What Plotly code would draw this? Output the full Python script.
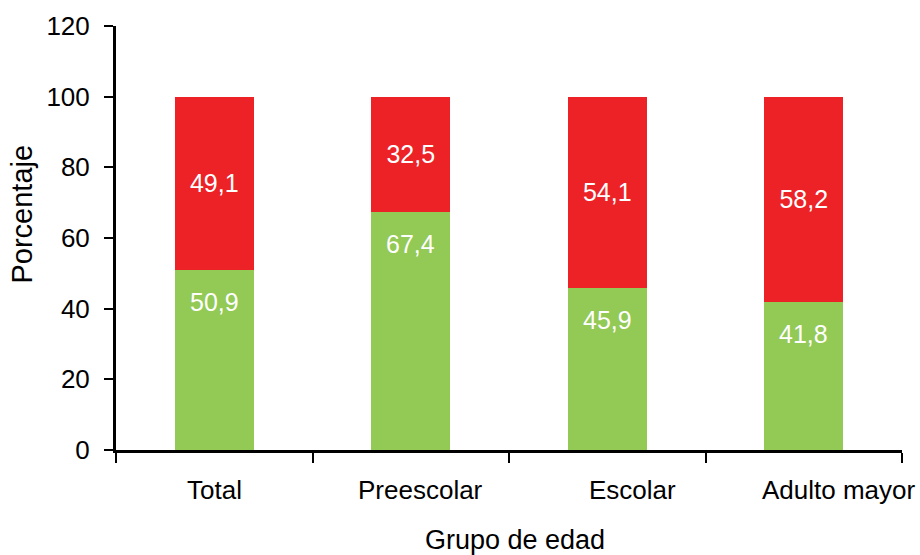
import plotly.graph_objects as go

# Distribución porcentual por grupo de edad
grupos = ["Total", "Preescolar", "Escolar", "Adulto mayor"]
verde = [50.9, 67.4, 45.9, 41.8]
rojo = [49.1, 32.5, 54.1, 58.2]
y_ticks = [0, 20, 40, 60, 80, 100, 120]

COLOR_VERDE = "#93C955"
COLOR_ROJO = "#EC2227"
FUENTE = "Liberation Sans, Arial, sans-serif"

# desplazamiento horizontal de cada rótulo de categoría (px)
desplaz_rotulos = [0, 10, 25, 35]


def etiqueta(v):
    return f"{v:.1f}".replace(".", ",")


fig = go.Figure()

# segmento inferior (verde); su rótulo va cerca del borde superior
fig.add_trace(go.Bar(
    x=grupos,
    y=verde,
    marker=dict(color=COLOR_VERDE, line=dict(width=0)),
    width=0.4,
    hoverinfo="skip",
    showlegend=False,
))

# segmento superior (rojo) con rótulo centrado
fig.add_trace(go.Bar(
    x=grupos,
    y=rojo,
    marker=dict(color=COLOR_ROJO, line=dict(width=0)),
    width=0.4,
    text=[etiqueta(v) for v in rojo],
    textposition="inside",
    insidetextanchor="middle",
    textangle=0,
    textfont=dict(color="white", size=25, family=FUENTE),
    hoverinfo="skip",
    showlegend=False,
))

for g, v in zip(grupos, verde):
    fig.add_annotation(
        x=g, y=v, xref="x", yref="y",
        text=etiqueta(v), showarrow=False,
        yanchor="middle", yshift=-32,
        font=dict(color="white", size=25, family=FUENTE),
    )

for g, dx in zip(grupos, desplaz_rotulos):
    fig.add_annotation(
        x=g, y=0, xref="x", yref="paper",
        text=g, showarrow=False,
        xanchor="center", yanchor="middle",
        xshift=dx, yshift=-40,
        font=dict(color="black", size=26, family=FUENTE),
    )

fig.update_layout(
    barmode="stack",
    width=920,
    height=555,
    margin=dict(l=116, r=18, t=26, b=105, autoexpand=False),
    paper_bgcolor="white",
    plot_bgcolor="white",
    font=dict(family=FUENTE, color="black", size=26),
    uniformtext=dict(minsize=24, mode="show"),
)

fig.update_xaxes(
    type="category",
    range=[-0.5, len(grupos) - 0.5],
    showline=True,
    linecolor="black",
    linewidth=3,
    ticks="outside",
    tickson="boundaries",
    ticklen=10,
    tickwidth=2,
    tickcolor="black",
    showticklabels=False,
    showgrid=False,
    zeroline=False,
)

fig.update_yaxes(
    range=[0, 120],
    tickvals=y_ticks,
    ticktext=[str(t) for t in y_ticks],
    showline=True,
    linecolor="black",
    linewidth=3,
    ticks="outside",
    ticklen=9,
    tickwidth=2,
    tickcolor="black",
    tickfont=dict(size=26, family=FUENTE),
    ticklabelstandoff=9,
    showgrid=False,
    zeroline=False,
)

fig.add_annotation(
    text="Porcentaje", xref="paper", yref="paper",
    x=-0.12, y=0.557, xanchor="center", yanchor="middle",
    textangle=-90, showarrow=False,
    font=dict(size=29, family=FUENTE, color="black"),
)
fig.add_annotation(
    text="Grupo de edad", xref="paper", yref="paper",
    x=0.508, y=-0.212, xanchor="center", yanchor="middle",
    showarrow=False,
    font=dict(size=27, family=FUENTE, color="black"),
)

fig.write_html("out.html")
